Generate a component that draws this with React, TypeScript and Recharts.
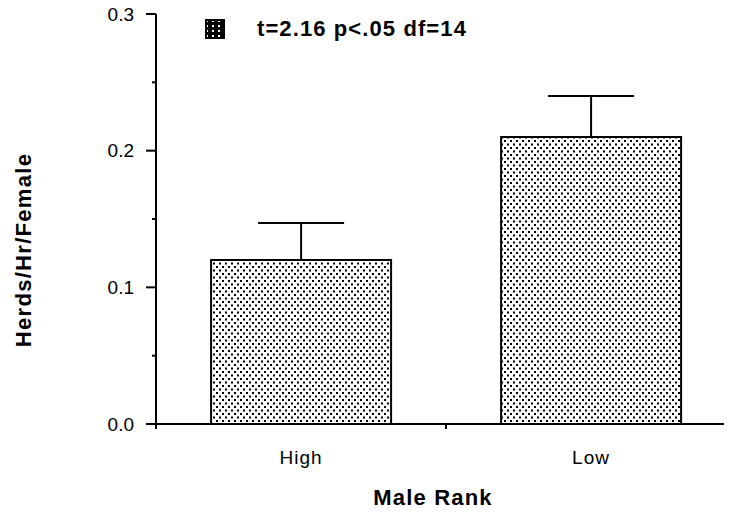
import React from 'react';
import { BarChart, Bar, XAxis, YAxis, ErrorBar, Label, Legend } from 'recharts';

const categories = ['High', 'Low'];
const herdRates = [0.12, 0.21];
const herdErrors = [0.027, 0.03];
const yMajorTicks = [0, 0.1, 0.2, 0.3];
const yMinorTicks = [0.05, 0.15, 0.25];
const legendText = 't=2.16 p<.05 df=14';

const data = categories.map((name, i) => ({
  name,
  value: herdRates[i],
  err: [0, herdErrors[i]],
}));

const FONT = '"Liberation Sans", Arial, sans-serif';
const CHART_W = 736;
const CHART_H = 516;
const X_AXIS_H = 30;
const MARGIN = { top: 14, right: 0, bottom: 62, left: 0 };
const Y_AXIS_W = 156;
const HALF_BAND = (CHART_W - Y_AXIS_W - MARGIN.right) / categories.length / 2;

const YTick = (props: any) => {
  const { x, y, payload } = props;
  const major = yMajorTicks.includes(payload.value);
  return (
    <g>
      <line x1={x - (major ? 10 : 4)} x2={x} y1={y} y2={y} stroke="#000" strokeWidth={2} />
      {major && (
        <text x={x - 22} y={y} dy="0.35em" textAnchor="end" fontSize={19} fontFamily={FONT} fill="#000">
          {payload.value.toFixed(1)}
        </text>
      )}
    </g>
  );
};

const XTick = (props: any) => {
  const { x, y, payload } = props;
  return (
    <g>
      <line x1={x - HALF_BAND} x2={x - HALF_BAND} y1={y} y2={y + 5} stroke="#000" strokeWidth={2} />
      <text x={x} y={y + 40} textAnchor="middle" fontSize={19} fontFamily={FONT} fill="#000" letterSpacing={1}>
        {payload.value}
      </text>
    </g>
  );
};

const LegendBox = () => (
  <div style={{ display: 'flex', alignItems: 'center', fontFamily: FONT }}>
    <svg width={20} height={20} style={{ display: 'block' }}>
      <defs>
        <pattern id="legendDots" width={6} height={5} patternUnits="userSpaceOnUse">
          <rect width={6} height={5} fill="#000" />
          <rect x={1} y={1} width={2} height={2} fill="#fff" />
        </pattern>
      </defs>
      <rect x={1} y={1} width={18} height={18} fill="url(#legendDots)" stroke="#000" strokeWidth={2} />
    </svg>
    <span style={{ marginLeft: 32, fontSize: 22, fontWeight: 'bold', letterSpacing: 1.1, color: '#000' }}>
      {legendText}
    </span>
  </div>
);

export default function App() {
  return (
    <div style={{ margin: -8, width: 732, height: CHART_H, overflow: 'hidden' }}>
      <BarChart width={CHART_W} height={CHART_H} data={data} margin={MARGIN} barCategoryGap="19%">
        <defs>
          <pattern id="barDots" width={6} height={7} patternUnits="userSpaceOnUse">
            <rect width={6} height={7} fill="#fff" />
            <rect x={0} y={0} width={2} height={2} fill="#000" />
            <rect x={3} y={3.5} width={2} height={2} fill="#000" />
          </pattern>
        </defs>
        <XAxis
          dataKey="name"
          height={X_AXIS_H}
          axisLine={{ stroke: '#000', strokeWidth: 2 }}
          tickLine={false}
          tickSize={0}
          tickMargin={0}
          tick={<XTick />}
          interval={0}
        >
          <Label
            content={() => (
              <text x={433} y={505} textAnchor="middle" fontSize={22} fontWeight="bold" fontFamily={FONT} fill="#000" letterSpacing={1.2}>
                Male Rank
              </text>
            )}
          />
        </XAxis>
        <YAxis
          width={Y_AXIS_W}
          domain={[0, 0.3]}
          ticks={[...yMajorTicks, ...yMinorTicks].sort((a, b) => a - b)}
          interval={0}
          axisLine={{ stroke: '#000', strokeWidth: 2 }}
          tickLine={false}
          tickSize={0}
          tickMargin={0}
          tick={<YTick />}
        >
          <Label
            content={() => (
              <text
                x={31}
                y={250}
                transform="rotate(-90, 31, 250)"
                textAnchor="middle"
                fontSize={22}
                fontWeight="bold"
                fontFamily={FONT}
                fill="#000"
                letterSpacing={1.3}
              >
                Herds/Hr/Female
              </text>
            )}
          />
        </YAxis>
        <Legend
          layout="horizontal"
          verticalAlign="middle"
          align="center"
          content={<LegendBox />}
          wrapperStyle={{ top: 16, left: 205, width: 'auto', height: 'auto' }}
        />
        <Bar dataKey="value" fill="url(#barDots)" stroke="#000" strokeWidth={2} isAnimationActive={false}>
          <ErrorBar dataKey="err" width={43} stroke="#000" strokeWidth={2} direction="y" />
        </Bar>
      </BarChart>
    </div>
  );
}
